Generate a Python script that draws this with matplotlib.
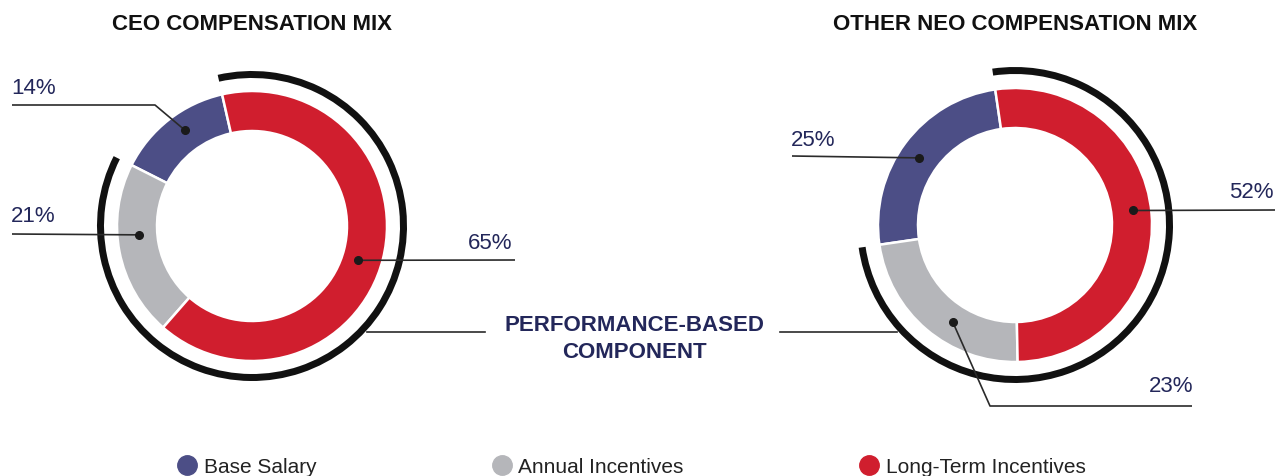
import matplotlib
matplotlib.use("Agg")
import matplotlib.pyplot as plt
from matplotlib.patches import Wedge
from matplotlib.lines import Line2D
from matplotlib import font_manager
import numpy as np

# ---------------- data ----------------
categories = ["Base Salary", "Annual Incentives", "Long-Term Incentives"]
ceo_values = [14, 21, 65]
neo_values = [25, 23, 52]
chart_titles = ["CEO COMPENSATION MIX", "OTHER NEO COMPENSATION MIX"]
performance_label = "PERFORMANCE-BASED\nCOMPONENT"
performance_parts = [1, 2]  # indices of categories counted as performance-based

# ---------------- style ----------------
colors = ["#4c4e86", "#b5b6ba", "#d01e2e"]
navy = "#23275a"
line_col = "#2a2a2a"
W, H = 1275, 477

fams = {f.name for f in font_manager.fontManager.ttflist}
base_font = "Liberation Sans" if "Liberation Sans" in fams else "DejaVu Sans"
plt.rcParams["font.family"] = [base_font, "DejaVu Sans"]

fig = plt.figure(figsize=(W / 100, H / 100), dpi=100)
ax = fig.add_axes([0, 0, 1, 1])


def Y(y_px):
    return H - y_px


# layout for each donut: centre (px), radius, ring width, arc radius, start angle
layouts = [
    dict(cx=252, cy=227, r=135, w=40, arc_r=155, arc_w=7, start=102.8),
    dict(cx=1015, cy=226, r=137, w=40, arc_r=158, arc_w=7, start=98.3),
]

for vals, lay, title in zip([ceo_values, neo_values], layouts, chart_titles):
    c = (lay["cx"], Y(lay["cy"]))
    ax.pie(vals, colors=colors, radius=lay["r"], center=c,
           startangle=lay["start"], counterclock=True,
           wedgeprops=dict(width=lay["w"], edgecolor="white", linewidth=1.8))
    total = sum(vals)
    # performance-based arc: covers annual + long-term
    th1 = lay["start"] + 360 * vals[0] / total
    th2 = lay["start"] + 360 * (vals[0] + sum(vals[i] for i in performance_parts)) / total
    ax.add_patch(Wedge(c, lay["arc_r"], th1, th2, width=lay["arc_w"],
                       facecolor="#111111", edgecolor="none"))
    ax.text(lay["cx"], Y(25), title, ha="center", va="center",
            fontsize=16, color="#111111", fontweight="bold")


def dot(lay, ang, rr):
    a = np.deg2rad(ang)
    return lay["cx"] + rr * np.cos(a), Y(lay["cy"]) + rr * np.sin(a)


def leader(lay, ang, rr, pts, label, tx, ty, ha):
    dx, dy = dot(lay, ang, rr)
    xs = [dx] + [p[0] for p in pts]
    ys = [dy] + [Y(p[1]) for p in pts]
    ax.plot(xs, ys, color=line_col, lw=1.2, solid_capstyle="butt", zorder=5)
    ax.plot([dx], [dy], "o", color="#1a1a1a", ms=5.5, zorder=6)
    ax.text(tx, Y(ty), label, ha=ha, va="center", fontsize=16, color=navy)


L0, L1 = layouts
# CEO labels
leader(L0, 125, 117, [(155, 106), (12, 106)], f"{ceo_values[0]}%", 11, 88, "left")
leader(L0, 184.5, 113, [(12, 235)], f"{ceo_values[1]}%", 11, 217, "left")
leader(L0, 342, 111, [(515, 261)], f"{ceo_values[2]}%", 512, 244, "right")
# NEO labels
leader(L1, 145, 117, [(792, 157)], f"{neo_values[0]}%", 791, 140, "left")
leader(L1, 237.5, 115.5, [(990, 407), (1192, 407)], f"{neo_values[1]}%", 1193, 387, "right")
leader(L1, 7, 119, [(1275, 211)], f"{neo_values[2]}%", 1274, 193, "right")

# performance-based callout
ax.plot([367, 485], [Y(333), Y(333)], color=line_col, lw=1.2)
ax.plot([780, 897], [Y(333), Y(333)], color=line_col, lw=1.2)
ax.text(634, Y(339), performance_label, ha="center", va="center",
        fontsize=16, fontweight="bold", color=navy, linespacing=1.35)

# legend
handles = [Line2D([], [], marker="o", ls="none", ms=14, color=c) for c in colors]
fig.legend(handles, categories, loc="center", bbox_to_anchor=(631 / W, 1 - 468 / H),
           ncol=3, frameon=False, fontsize=15, handletextpad=0.3,
           columnspacing=8.4, handlelength=1.0, labelcolor="#222222")

ax.set_xlim(0, W)
ax.set_ylim(0, H)
ax.set_aspect("equal")
ax.axis("off")
fig.savefig("out.png", dpi=100, facecolor="white")
